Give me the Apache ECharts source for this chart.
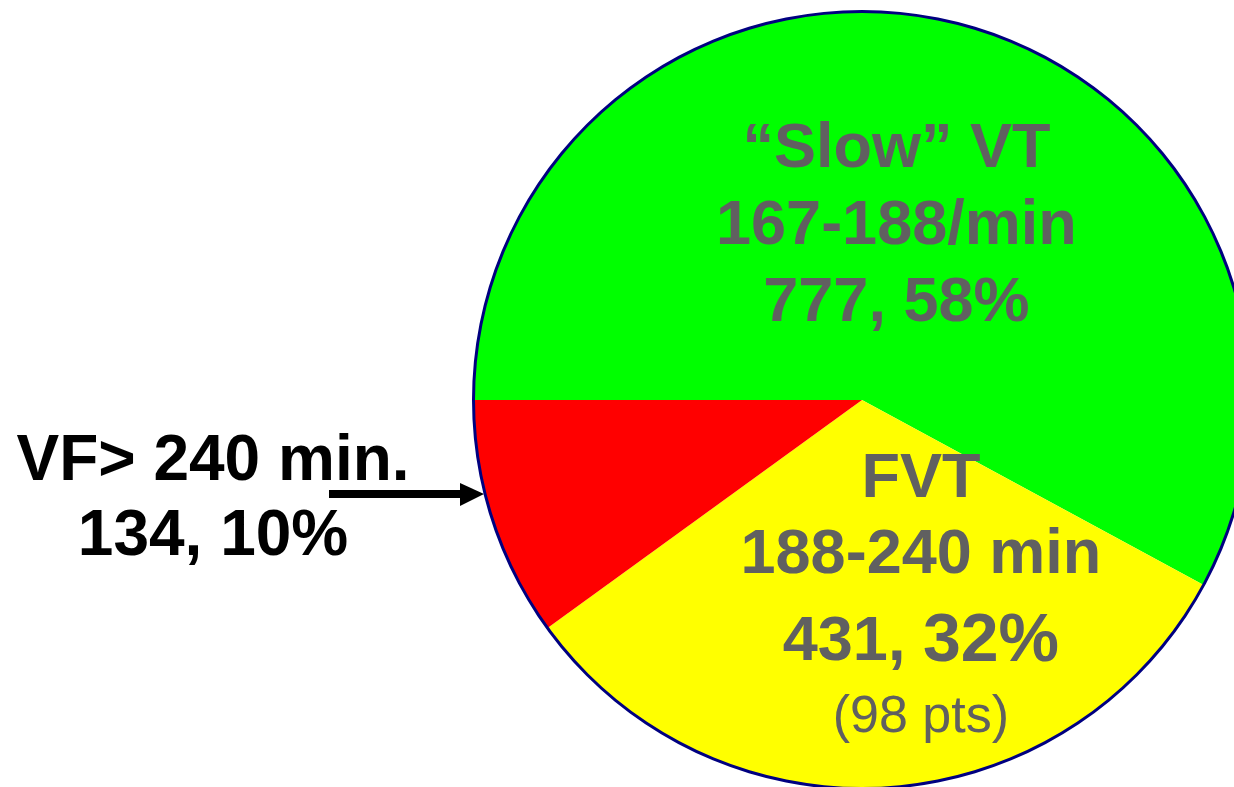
<!DOCTYPE html>
<html>
<head>
<meta charset="utf-8">
<title>VT / FVT / VF episodes</title>
<script src="https://cdn.jsdelivr.net/npm/echarts@6/dist/echarts.min.js"></script>
<style>
  html, body { margin: 0; padding: 0; background: #ffffff; }
  #chart { width: 1234px; height: 787px; }
</style>
</head>
<body>
<div id="chart"></div>
<script>
// Episode counts by rate zone
const zoneNames = ['\u201cSlow\u201d VT', 'FVT', 'VF> 240 min.'];
const zoneRanges = ['167-188/min', '188-240 min', ''];
const episodeCounts = [777, 431, 134];
const episodePercents = [58, 32, 10];
const zoneColors = ['#00ff00', '#ffff00', '#ff0000'];
const fvtPatients = 98;

const FONT = '"Liberation Sans", Arial, Helvetica, sans-serif';
const GREY = '#606060';

const chart = echarts.init(document.getElementById('chart'), null, { renderer: 'canvas' });

function labelFor(i) {
  const n = episodeCounts[i], p = episodePercents[i];
  if (i === 0) {
    return '{t|' + zoneNames[0] + '}\n{t|' + zoneRanges[0] + '}\n{t|' + n + ', ' + p + '%}';
  }
  if (i === 1) {
    return '{h|' + zoneNames[1] + '}\n{h|' + zoneRanges[1] + '}\n{m|' + n + ', }{p|' + p + '%}\n{s|(' + fvtPatients + ' pts)}';
  }
  return '{k|' + zoneNames[2] + '}\n{k|' + n + ', ' + p + '%}';
}

const pieData = episodeCounts.map((v, i) => ({
  name: zoneNames[i],
  value: v,
  itemStyle: { color: zoneColors[i] }
}));

const option = {
  backgroundColor: '#ffffff',
  animation: false,
  series: [
    {
      type: 'pie',
      center: [862, 400],
      radius: [0, 388],
      startAngle: 180,
      clockwise: true,
      avoidLabelOverlap: false,
      silent: true,
      itemStyle: { borderWidth: 0 },
      label: {
        show: true,
        position: 'inside',
        formatter: (p) => labelFor(p.dataIndex),
        fontFamily: FONT,
        rich: {
          t: { fontFamily: FONT, fontSize: 63, fontWeight: 'bold', color: GREY, lineHeight: 77, align: 'center' },
          h: { fontFamily: FONT, fontSize: 63, fontWeight: 'bold', color: GREY, lineHeight: 76, align: 'center' },
          m: { fontFamily: FONT, fontSize: 63, fontWeight: 'bold', color: GREY, lineHeight: 98 },
          p: { fontFamily: FONT, fontSize: 68, fontWeight: 'bold', color: GREY, lineHeight: 98 },
          s: { fontFamily: FONT, fontSize: 52, fontWeight: 'normal', color: GREY, lineHeight: 52, align: 'center' },
          k: { fontFamily: FONT, fontSize: 64, fontWeight: 'bold', color: '#000000', lineHeight: 75, align: 'center' }
        }
      },
      labelLine: { show: false },
      labelLayout: (params) => {
        if (params.dataIndex === 0) return { dx: -14, dy: 18 };
        if (params.dataIndex === 1) return { dx: 46, dy: -4 };
        return { x: 213, y: 500, align: 'center', verticalAlign: 'middle' };
      },
      data: pieData
    },
    {
      // thin navy rim around the pie
      type: 'pie',
      center: [862, 400],
      radius: [387, 390],
      silent: true,
      label: { show: false },
      labelLine: { show: false },
      itemStyle: { color: '#000080', borderWidth: 0 },
      data: [{ value: 1, name: 'rim' }]
    }
  ],
  graphic: [
    {
      type: 'group',
      children: [
        {
          type: 'line',
          shape: { x1: 329, y1: 494, x2: 466, y2: 494 },
          style: { stroke: '#000000', lineWidth: 8 }
        },
        {
          type: 'polygon',
          shape: { points: [[460, 483], [484, 494], [460, 506]] },
          style: { fill: '#000000' }
        }
      ]
    }
  ]
};

chart.setOption(option);
</script>
</body>
</html>
